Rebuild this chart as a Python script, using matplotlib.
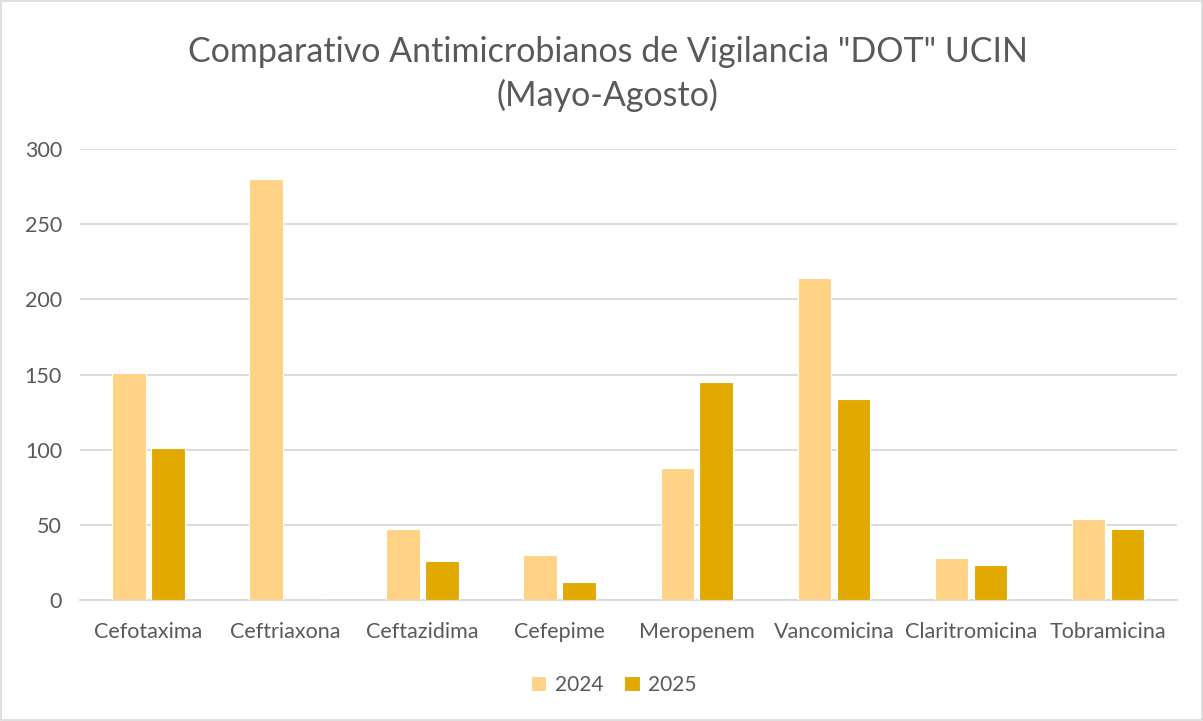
import matplotlib
matplotlib.use("Agg")
import matplotlib.pyplot as plt
import numpy as np
from matplotlib.patches import Rectangle

categories = ["Cefotaxima", "Ceftriaxona", "Ceftazidima", "Cefepime",
              "Meropenem", "Vancomicina", "Claritromicina", "Tobramicina"]
dot_2024 = [151, 280, 47, 30, 88, 214, 28, 54]
dot_2025 = [101, 0, 26, 12, 145, 134, 23, 47]
yticks = [0, 50, 100, 150, 200, 250, 300]

C24 = "#FFD285"
C25 = "#E2AA00"
TXT = "#595959"
GRID = "#D9D9D9"

plt.rcParams["font.family"] = ["Lato", "DejaVu Sans"]

fig = plt.figure(figsize=(12.03, 7.21), dpi=100)
ax = fig.add_axes([0.0665, 0.1678, 0.9115, 0.6255])

x = np.arange(len(categories))
w = 0.245
off = 0.142
ax.bar(x - off, dot_2024, w, color=C24, edgecolor="white", linewidth=0.8,
       label="2024", zorder=3)
ax.bar(x + off, dot_2025, w, color=C25, edgecolor="white", linewidth=0.8,
       label="2025", zorder=3)

ax.set_xlim(-0.5, len(categories) - 0.5)
ax.set_ylim(0, 300)
ax.set_yticks(yticks)
ax.set_xticks(x)
ax.set_xticklabels(categories)
ax.tick_params(length=0, labelsize=15.5, colors=TXT)
ax.tick_params(axis="y", pad=13)
ax.tick_params(axis="x", pad=16)
ax.grid(axis="y", color=GRID, linewidth=1.3, zorder=0)
for side in ("top", "right", "left"):
    ax.spines[side].set_visible(False)
ax.spines["bottom"].set_color(GRID)
ax.spines["bottom"].set_linewidth(1.3)

fig.text(0.505, 0.928, 'Comparativo Antimicrobianos de Vigilancia "DOT" UCIN',
         ha="center", va="center", fontsize=24.5, color=TXT)
fig.text(0.505, 0.867, "(Mayo-Agosto)", ha="center", va="center",
         fontsize=24.5, color=TXT)

fig.legend(loc="center", bbox_to_anchor=(0.51, 0.05), ncol=2, frameon=False,
           fontsize=15, labelcolor=TXT, handlelength=0.75, handleheight=0.75,
           columnspacing=1.0, handletextpad=0.4)

fig.patches.append(Rectangle((0.001, 0.001), 0.998, 0.997, transform=fig.transFigure,
                             fill=False, edgecolor=GRID, linewidth=1.2))

fig.savefig("out.png", dpi=100)
